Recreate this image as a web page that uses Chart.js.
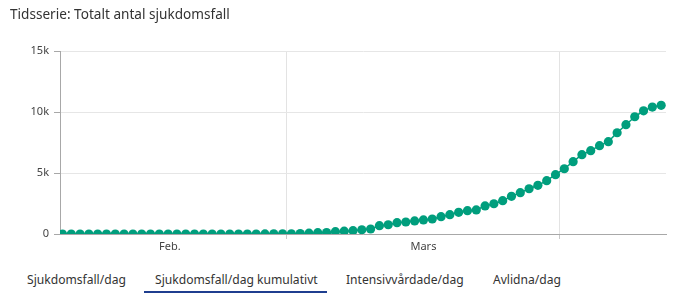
<!DOCTYPE html>
<html>
<head>
<meta charset="utf-8">
<script src="https://cdn.jsdelivr.net/npm/chart.js@4"></script>
<style>
  body { margin: 0; background: #fff; font-family: "Noto Sans", sans-serif; color: #333; }
  #wrap { position: relative; width: 676px; height: 299px; overflow: hidden; }
  #title { position: absolute; left: 10px; top: 4px; font-size: 13.6px; color: #333; white-space: nowrap; }
  #chart-box { position: absolute; left: 0; top: 0; width: 676px; height: 263px; }
  .tab { position: absolute; top: 271px; font-size: 12.1px; color: #333; white-space: nowrap; }
  #underline { position: absolute; left: 144px; top: 291px; width: 183px; height: 2px; background: #1f3e8f; }
</style>
</head>
<body>
<div id="wrap">
  <div id="chart-box"><canvas id="chart"></canvas></div>
  <div id="title">Tidsserie: Totalt antal sjukdomsfall</div>
  <div class="tab" style="left:27px">Sjukdomsfall/dag</div>
  <div class="tab" style="left:155px">Sjukdomsfall/dag kumulativt</div>
  <div class="tab" style="left:346px">Intensivvårdade/dag</div>
  <div class="tab" style="left:493px">Avlidna/dag</div>
  <div id="underline"></div>
</div>
<script>
// day index 0 = 4 feb, last = 12 april
const cumulativeCases = [
  1, 1, 1, 1, 1, 1, 1, 1, 1, 1,
  1, 1, 1, 1, 1, 1, 1, 1, 1, 1,
  1, 1, 2, 7, 12, 14, 15, 40, 70, 110,
  125, 190, 230, 275, 350, 410, 680, 760, 930, 985,
  1070, 1150, 1230, 1420, 1580, 1780, 1910, 1970, 2300, 2480,
  2730, 3090, 3390, 3710, 3990, 4370, 4860, 5350, 5930, 6500,
  6830, 7240, 7570, 8300, 8960, 9610, 10100, 10400, 10550
];
const dayIndex = cumulativeCases.map((v, i) => i);

// month boundaries (between 29 feb / 1 mars and 31 mars / 1 april)
const monthBreaks = [25.5, 56.5];
const monthLabels = ["Feb.", "Mars"];
const monthLabelPos = [12.2, 41];

const yTicks = [0, 5000, 10000, 15000];

const pointColour = "#009e7d";

const chartData = {
  datasets: [{
    data: dayIndex.map((d, i) => ({ x: d, y: cumulativeCases[i] })),
    borderColor: pointColour,
    backgroundColor: pointColour,
    borderWidth: 1.5,
    pointRadius: 4.6,
    pointBorderWidth: 0,
    tension: 0,
  }],
};

function isBreak(value) {
  return monthBreaks.some((b) => Math.abs(b - value) < 0.01);
}

new Chart(document.getElementById("chart"), {
  type: "line",
  data: chartData,
  options: {
    responsive: true,
    maintainAspectRatio: false,
    animation: false,
    layout: { padding: { top: 51, right: 10, left: 0, bottom: 0 } },
    plugins: { legend: { display: false }, tooltip: { enabled: false } },
    scales: {
      x: {
        type: "linear",
        min: -0.28,
        max: 68.55,
        afterBuildTicks: (scale) => {
          scale.ticks = monthLabelPos.map((v) => ({ value: v }))
            .concat(monthBreaks.map((v) => ({ value: v })))
            .sort((a, b) => a.value - b.value);
        },
        afterFit: (scale) => { scale.height = 29; },
        border: { color: "#a8a8a8", width: 1 },
        grid: {
          color: (ctx) => (ctx.tick && isBreak(ctx.tick.value) ? "#e3e3e3" : "rgba(0,0,0,0)"),
          tickColor: (ctx) => (ctx.tick && isBreak(ctx.tick.value) ? "#c8c8c8" : "rgba(0,0,0,0)"),
          tickLength: 5,
        },
        ticks: {
          autoSkip: false,
          maxRotation: 0,
          padding: 1,
          color: "#444",
          font: { family: "Noto Sans", size: 11 },
          callback: (value) => {
            const idx = monthLabelPos.indexOf(value);
            return idx >= 0 ? monthLabels[idx] : "";
          },
        },
      },
      y: {
        min: 0,
        max: 15000,
        afterBuildTicks: (scale) => {
          scale.ticks = yTicks.map((v) => ({ value: v }));
        },
        afterFit: (scale) => { scale.width = 60; },
        border: { color: "#a8a8a8", width: 1 },
        grid: {
          color: "#e6e6e6",
          tickColor: "#a8a8a8",
          tickLength: 6,
        },
        ticks: {
          padding: 5,
          color: "#444",
          font: { family: "Noto Sans", size: 11 },
          callback: (value) => (value === 0 ? "0" : value / 1000 + "k"),
        },
      },
    },
  },
});
</script>
</body>
</html>
